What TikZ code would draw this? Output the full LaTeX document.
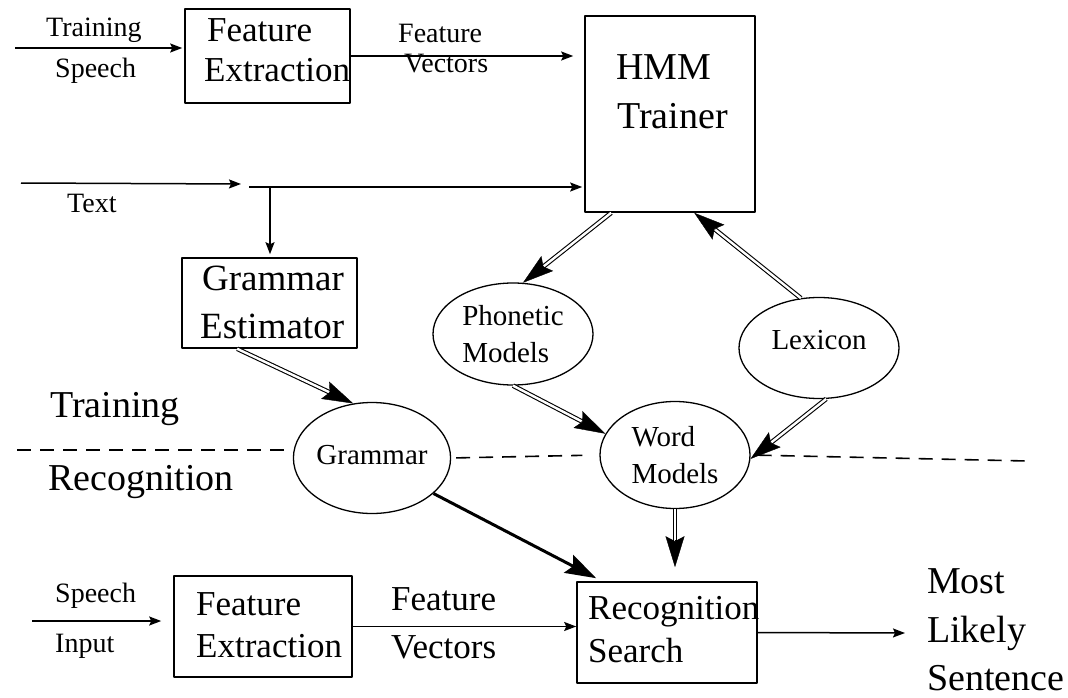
\documentclass[tikz,border=0pt]{standalone}
\usepackage{fontspec}
\setmainfont{Liberation Serif}
\usetikzlibrary{arrows.meta,calc,shapes.geometric}

% double-line connector ending in a large solid head
\newcommand\feedarrow[2]{%
  \draw[dbl, shorten >=20pt] #1 -- #2;
  \draw[headonly] ($#2!27pt!#1$) -- #2;
}

\begin{document}
\begin{tikzpicture}[x=1pt, y=-1pt, line join=round,
  stage/.style={draw, line width=1.6pt, inner sep=0pt},
  oval/.style={draw, ellipse, line width=1.3pt, inner sep=0pt, align=left,
    font=\fontsize{29}{37}\selectfont},
  small/.style={inner sep=0pt, anchor=base west, font=\fontsize{28}{34}\selectfont},
  medium/.style={inner sep=0pt, anchor=base west, font=\fontsize{35}{42}\selectfont},
  large/.style={inner sep=0pt, anchor=base west, font=\fontsize{38}{46}\selectfont},
  flow/.style={line width=1.5pt, -{Stealth[length=12pt,width=9pt,inset=2pt]}},
  dbl/.style={line width=1.1pt, double, double distance=2.4pt},
  headonly/.style={line width=0.4pt, -{Stealth[length=31pt,width=19pt,inset=5pt]}},
  strong/.style={line width=3pt, -{Stealth[length=31pt,width=20pt,inset=5pt]}},
  divider/.style={line width=1.6pt, dash pattern=on 14pt off 9pt},
]
\path[use as bounding box, fill=white] (0,0) rectangle (1068,698);

% ---- training: acoustic front end and HMM trainer
\node[stage, minimum width=165pt, minimum height=94pt] (fe1) at (267.5,56) {};
\node[medium] (fe1a) at (207,42) {Feature};
\node[medium] (fe1b) at (204,82) {Extraction};
\node[small] (lTr) at (46,37) {Training};
\node[small] (lSp) at (55,78) {Speech};
\node[small] (lFv1) at (398,43) {Feature};
\node[small] (lFv2) at (404,73) {Vectors};

\node[stage, minimum width=170pt, minimum height=196pt] (hmm) at (670,114) {};
\node[large] (hmma) at (616,80) {HMM};
\node[large] (hmmb) at (617,129) {Trainer};

\node[small] (lTx) at (67,212) {Text};

\node[stage, minimum width=175pt, minimum height=90pt] (gest) at (269.5,303) {};
\node[large, font=\fontsize{37}{44}\selectfont] (gesta) at (202,290) {Grammar};
\node[large, font=\fontsize{37}{44}\selectfont] (gestb) at (200,338) {Estimator};

% ---- model stores
\node[oval, minimum width=160pt, minimum height=102pt] (phon) at (513,334) {Phonetic\\Models};
\node[oval, minimum width=160pt, minimum height=101pt, text height=20pt, text depth=18pt] (lex) at (819,348) {Lexicon};
\node[oval, minimum width=150pt, minimum height=107pt] (word) at (675,455) {Word\\Models};
\node[oval, minimum width=156pt, minimum height=111pt, text height=20pt, text depth=8pt] (gram) at (372,458) {Grammar};

\node[large] (lTrain) at (50,417) {Training};
\node[large] (lRecog) at (48,490) {Recognition};

% ---- recognition chain
\node[small] (lSp2) at (55,602) {Speech};
\node[small] (lIn) at (55,652) {Input};
\node[stage, minimum width=178pt, minimum height=101pt] (fe2) at (263,626.5) {};
\node[medium] (fe2a) at (196,615) {Feature};
\node[medium] (fe2b) at (196,657) {Extraction};
\node[medium] (lFv3) at (391,610) {Feature};
\node[medium] (lFv4) at (391,658) {Vectors};
\node[stage, minimum width=180pt, minimum height=101pt] (rec) at (667,632.5) {};
\node[medium] (reca) at (588,619) {Recognition};
\node[medium] (recb) at (588,662) {Search};
\node[large] (o1) at (927,593) {Most};
\node[large] (o2) at (927,642) {Likely};
\node[large] (o3) at (927,690) {Sentence};

% ---- loose line ends
\coordinate (tsp) at (15,48);
\coordinate (tx0) at (21,183);
\coordinate (tx1) at (241,184);
\coordinate (tx2) at (249,187);
\coordinate (txj) at (270,187);
\coordinate (spin) at (32,621);
\coordinate (outp) at (905,633);
\coordinate (dl) at (17,450);
\coordinate (dr) at (1027,461);
\coordinate (hmmL) at ($(hmm.south west)+(27,0)$);
\coordinate (hmmR) at ($(hmm.south west)+(110,0)$);
\coordinate (gestL) at ($(gest.south west)+(56,0)$);
\coordinate (wtip) at ($(word.south |- rec.north)+(0,-14)$);
\coordinate (recL) at ($(rec.north west)+(20,-3)$);

% ---- signal flow
\draw[flow, shorten >=2pt] (tsp) -- (tsp -| fe1.west);
\draw[flow, shorten >=11pt] (fe1.east) -- (fe1.east -| hmm.west);
\draw[flow] (tx0) -- (tx1);
\draw[flow, shorten >=2pt] (tx2) -- (tx2 -| hmm.west);
\draw[flow, shorten >=3pt] (txj) -- (txj |- gest.north);
\draw[flow, shorten >=12pt] (spin) -- (spin -| fe2.west);
\draw[flow] (fe2.east) -- (fe2.east -| rec.west);
\draw[flow] (rec.east) -- (outp);

% ---- model flow
\feedarrow{(hmmL)}{(phon.79)}
\feedarrow{(lex.110)}{(hmmR)}
\feedarrow{(phon.south)}{(word.163)}
\feedarrow{(lex.278)}{(word.357)}
\feedarrow{(gestL)}{(gram.109)}
\feedarrow{(word.south)}{(wtip)}
\draw[strong] (gram.330) -- (recL);

% ---- training / recognition divider
\draw[divider] (dl) -- (dl -| gram.west);
\draw[divider, shorten <=5pt, shorten >=17pt] (gram.east) -- (word.west);
\draw[divider, shorten <=7pt] (word.east) -- (dr);
\end{tikzpicture}
\end{document}
